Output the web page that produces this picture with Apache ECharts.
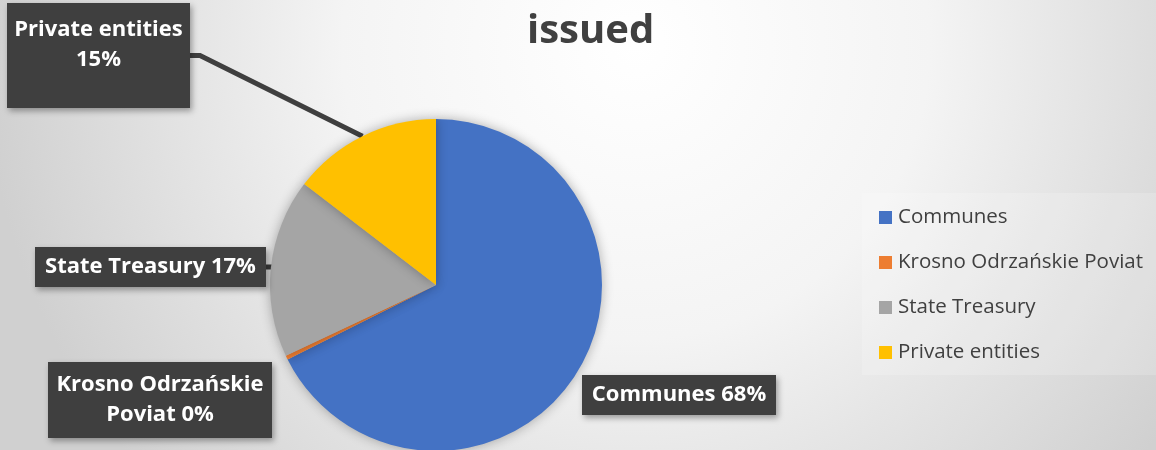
<!DOCTYPE html>
<html>
<head>
<meta charset="utf-8">
<script src="https://cdn.jsdelivr.net/npm/echarts@6/dist/echarts.min.js"></script>
<style>
html,body{margin:0;padding:0;}
#chart{width:1156px;height:450px;}
</style>
</head>
<body>
<div id="chart"></div>
<script>
const titleText = 'issued';
const categories = ['Communes', 'Krosno Odrzańskie Poviat', 'State Treasury', 'Private entities'];
const values = [67.6, 0.4, 17.4, 14.6];
const colors = ['#4472C4', '#ED7D31', '#A5A5A5', '#FFC000'];
const labelTexts = ['Communes {p}%', 'Krosno Odrzańskie\nPoviat {p}%', 'State Treasury {p}%', 'Private entities\n{p}%'];
const showLeader = [false, false, true, true];

const FONT = '"Open Sans"';
const labelBoxes = [
  {cx: 679, top: 375, width: 174, padding: [5, 10, 5, 10]},
  {cx: 160, top: 362, width: 204, padding: [8, 10, 8, 10]},
  {cx: 150.5, top: 247, width: 211, padding: [5, 10, 5, 10]},
  {cx: 98.5, top: 3, width: 163, padding: [12, 10, 33, 10]}
];

const chart = echarts.init(document.getElementById('chart'), null, {renderer: 'canvas'});

const data = categories.map((name, i) => ({
  name: name,
  value: values[i],
  itemStyle: {color: colors[i]},
  label: {width: labelBoxes[i].width, padding: labelBoxes[i].padding},
  labelLine: {show: showLeader[i]}
}));

chart.setOption({
  backgroundColor: {
    type: 'radial', x: 0.55, y: 0.1, r: 1.45,
    colorStops: [
      {offset: 0, color: '#ffffff'},
      {offset: 0.45, color: '#f4f4f4'},
      {offset: 1, color: '#d0d0d0'}
    ]
  },
  title: {
    text: titleText,
    left: 522,
    top: 7,
    textStyle: {fontFamily: FONT, fontSize: 40, fontWeight: 'bold', color: '#404040'}
  },
  legend: {
    orient: 'vertical',
    left: 862,
    top: 193,
    padding: [14, 20, 12, 17],
    backgroundColor: 'rgba(255,255,255,0.18)',
    itemWidth: 13,
    itemHeight: 13,
    itemGap: 24,
    icon: 'rect',
    textStyle: {fontFamily: FONT, fontSize: 20.5, color: '#404040', padding: [0, 0, 0, 1]},
    data: categories
  },
  series: [{
    type: 'pie',
    center: [436, 285],
    radius: 166,
    startAngle: 90,
    clockwise: true,
    avoidLabelOverlap: false,
    itemStyle: {shadowBlur: 12, shadowColor: 'rgba(0,0,0,0.3)'},
    label: {
      show: true,
      formatter: p => labelTexts[p.dataIndex].replace('{p}', Math.round(p.percent)),
      fontFamily: FONT,
      fontSize: 22,
      fontWeight: 'bold',
      color: '#ffffff',
      lineHeight: 30,
      align: 'center',
      overflow: 'none',
      backgroundColor: '#3f3f3f',
      shadowBlur: 6,
      shadowOffsetX: 2,
      shadowOffsetY: 3,
      shadowColor: 'rgba(0,0,0,0.35)'
    },
    labelLine: {
      show: true,
      length: 10,
      length2: 10,
      lineStyle: {color: '#3f3f3f', width: 5}
    },
    labelLayout: function (params) {
      const b = labelBoxes[params.dataIndex];
      return {x: b.cx, y: b.top, align: 'center', verticalAlign: 'top'};
    },
    emphasis: {disabled: true},
    data: data
  }]
});
</script>
</body>
</html>
